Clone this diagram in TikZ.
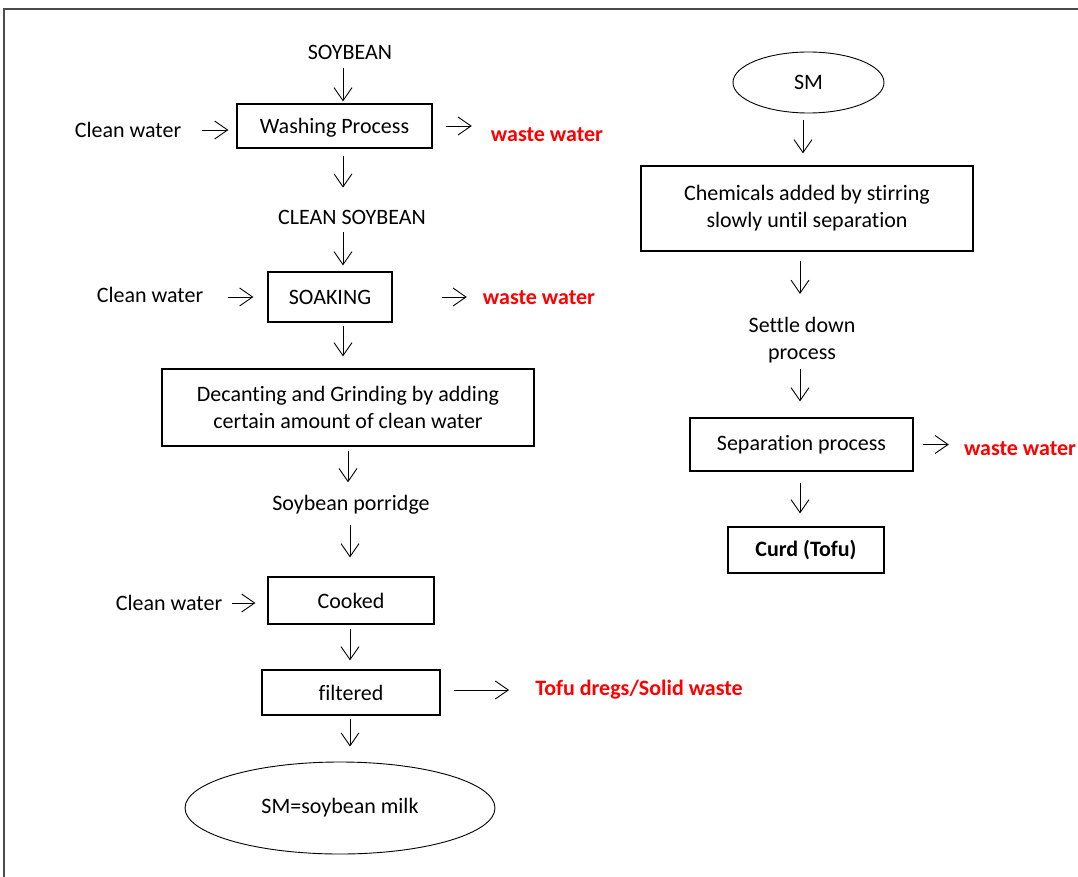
\documentclass[tikz,border=0pt]{standalone}
\usepackage{fontspec}
\setmainfont{Carlito}[Ligatures={NoCommon,NoContextual}]
\usetikzlibrary{arrows.meta,shapes.geometric}

\begin{document}
\begin{tikzpicture}[x=1pt,y=-1pt,
    font=\fontsize{22}{27}\selectfont,
    every node/.style={inner sep=0pt},
    box/.style 2 args={draw,line width=1.2pt,minimum width=#1pt,minimum height=#2pt},
    oval/.style 2 args={draw,ellipse,line width=0.9pt,minimum width=#1pt,minimum height=#2pt},
    waste/.style={text=red,font=\fontsize{22}{27}\selectfont\bfseries},
    arr/.style={-{Straight Barb[length=13pt,width=18pt]},line width=0.9pt}]
    \useasboundingbox (0,0) rectangle (1078,877);
    \draw[line width=1.5pt,black!70] (4,877) -- (4,9) -- (1078,9);
    % left column
    \node (soy) at (350,52) {SOYBEAN};
    \node[box={195}{44},text depth=0pt] (wash) at (334.5,126) {Washing Process};
    \node (cw1) at (128,130) {Clean water};
    \node[waste] (ww1) at (547,135) {waste water};
    \node (csoy) at (352,217) {CLEAN SOYBEAN};
    \node[box={124}{50}] (soak) at (330,297) {SOAKING};
    \node (cw2) at (150,295) {Clean water};
    \node[waste] (ww2) at (539,298) {waste water};
    \node[box={372}{77},align=center] (grind) at (348,407.5) {Decanting and Grinding by adding\\certain amount of clean water};
    \node (porr) at (351,505) {Soybean porridge};
    \node[box={166}{47}] (cook) at (351,600.5) {Cooked};
    \node (cw3) at (169,603) {Clean water};
    \node[box={178}{45}] (filt) at (351,692.5) {filtered};
    \node[waste] (dregs) at (639,690) {Tofu dregs/Solid waste};
    \node[oval={310}{92}] (milk) at (340,808) {SM=soybean milk};
    % right column
    \node[oval={151}{61}] (sm) at (808.5,82.5) {SM};
    \node[box={332}{85},align=center] (chem) at (807,208.5) {Chemicals added by stirring\\slowly until separation};
    \node[align=center] (settle) at (802,340) {Settle down\\process};
    \node[box={223}{53}] (sep) at (801.5,444.5) {Separation process};
    \node[waste] (ww3) at (1020,449) {waste water};
    \node[box={156}{46},font=\fontsize{22}{27}\selectfont\bfseries] (curd) at (806,550) {Curd (Tofu)};
    % arrow columns
    \coordinate (cL) at (343,0);
    \coordinate (cM) at (348,0);
    \coordinate (cN) at (350,0);
    \coordinate (cR) at (803,0);
    \coordinate (cS) at (800,0);
    \foreach \a/\b/\c/\s/\e in {soy/wash/cL/9/2, wash/csoy/cL/7/22, csoy/soak/cL/8/6,
        soak/grind/cL/3/12, grind/porr/cM/4/13, porr/cook/cN/10/19, cook/filt/cN/4/9,
        filt/milk/cN/3/15, sm/chem/cR/7/12, chem/settle/cS/9/23, settle/sep/cS/6/16,
        sep/curd/cS/11/13}
    \draw[arr,shorten <=\s pt,shorten >=\e pt] (\a.south -| \c) -- (\b.north -| \c);
    % side arrows
    \draw[arr,shorten <=20.5pt,shorten >=8pt] (cw1.east) -- (cw1 -| wash.west);
    \draw[arr,shorten <=13pt,shorten >=19pt] (wash.east) -- (wash -| ww1.west);
    \draw[arr,shorten <=24.5pt,shorten >=14pt] (cw2.east |- soak) -- (soak.west);
    \draw[arr,shorten <=49pt,shorten >=16pt] (soak.east) -- (soak -| ww2.west);
    \draw[arr,shorten <=9.5pt,shorten >=12pt] (cw3.east) -- (cw3 -| cook.west);
    \draw[arr,shorten <=13pt,shorten >=26pt] (filt.east |- dregs) -- (dregs.west);
    \draw[arr,shorten <=9pt,shorten >=15pt] (sep.east) -- (sep -| ww3.west);
\end{tikzpicture}
\end{document}
